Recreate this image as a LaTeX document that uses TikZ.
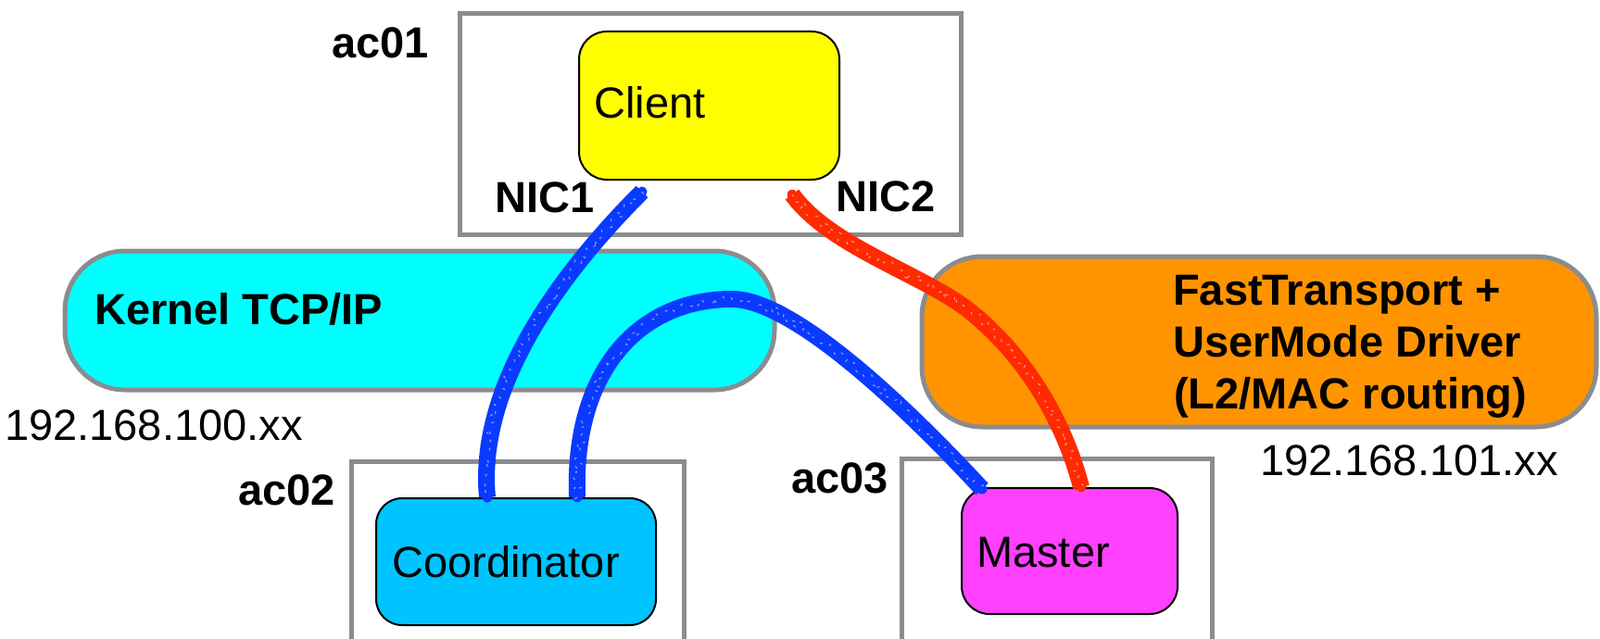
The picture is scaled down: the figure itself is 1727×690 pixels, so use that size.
\documentclass[tikz,border=0pt]{standalone}
\usepackage{fontspec}
\setmainfont{Liberation Sans}
\usetikzlibrary{decorations.pathmorphing}
\definecolor{framegray}{RGB}{138,140,143}
\definecolor{cyanfill}{RGB}{0,255,255}
\definecolor{orangefill}{RGB}{255,148,0}
\definecolor{clientfill}{RGB}{255,255,0}
\definecolor{coordfill}{RGB}{0,196,255}
\definecolor{masterfill}{RGB}{255,64,255}
\definecolor{bluecray}{RGB}{10,58,255}
\definecolor{redcray}{RGB}{255,42,0}
\begin{document}
\begin{tikzpicture}[x=1pt,y=-1pt,
  hostframe/.style={draw=framegray, line width=5pt, rectangle, inner sep=0pt, anchor=north west},
  pill/.style={draw=framegray, line width=5pt, rounded corners=65pt, rectangle, inner sep=0pt, anchor=north west},
  proc/.style={draw=black, line width=2pt, rounded corners=30pt, rectangle, inner sep=0pt, anchor=north west},
  lbl/.style={font=\fontsize{47}{56}\selectfont, inner sep=0pt, anchor=base west},
  blbl/.style={lbl, font=\fontsize{47}{56}\selectfont\bfseries},
  crayon/.style={draw=#1, line width=18pt,
    postaction={draw=#1, line width=11pt, line join=round, line cap=round, decorate,
      decoration={random steps, segment length=4pt, amplitude=3.5pt}},
    postaction={draw=white, opacity=0.5, line width=1.2pt, line join=round,
      dash pattern=on 3pt off 11pt, decorate,
      decoration={random steps, segment length=3pt, amplitude=5pt}}}
]
\useasboundingbox (0,0) rectangle (1727,690);
\clip (0,0) rectangle (1727,690);

% host frames
\node[hostframe, minimum width=541pt, minimum height=238pt] (ac01) at (493.5,12.5) {};
\node[hostframe, minimum width=359pt, minimum height=240pt] (ac02) at (376.5,495.5) {};
\node[hostframe, minimum width=335pt, minimum height=240pt] (ac03) at (970.5,492.5) {};

% network pills
\node[pill, fill=cyanfill, minimum width=766pt, minimum height=150pt] (kernel) at (67.5,268.5) {};
\node[pill, fill=orangefill, minimum width=728pt, minimum height=184pt] (fast) at (992.5,274.5) {};

% processes
\node[proc, fill=clientfill, minimum width=281pt, minimum height=160pt] (client) at (624,33) {};
\node[proc, fill=coordfill, rounded corners=28pt, minimum width=302pt, minimum height=137pt] (coord) at (405,537) {};
\node[proc, fill=masterfill, minimum width=233pt, minimum height=136pt] (master) at (1037,526) {};

% texts
\node[blbl] (lac01) at (358,63) {ac01};
\node[lbl] (tclient) at (641,128) {Client};
\node[blbl] (tnic1) at (534,229) {NIC1};
\node[blbl] (tnic2) at (902,228) {NIC2};
\node[blbl] (tkernel) at (102,350) {Kernel TCP/IP};
\node[lbl] (ip1) at (5,475) {192.168.100.xx};
\node[blbl] (ft1) at (1266,329) {FastTransport +};
\node[blbl] (ft2) at (1266,385) {UserMode Driver};
\node[blbl] (ft3) at (1267,441) {(L2/MAC routing)};
\node[lbl] (ip2) at (1360,513) {192.168.101.xx};
\node[blbl, anchor=base east] (lac02) at (362,545) {ac02};
\node[blbl, anchor=base east] (lac03) at (959,532) {ac03};
\node[lbl] (tcoord) at (423,623) {Coordinator};
\node[lbl] (tmaster) at (1054,612) {Master};

% connections
\draw[crayon=bluecray] ([xshift=69pt,yshift=-12pt]client.south west)
  .. controls (600,300) and (515,420) .. ([xshift=121pt]coord.north west);
\draw[crayon=bluecray] ([xshift=218pt]coord.north west)
  .. controls (618,400) and (690,323) .. (790,323)
  .. controls (850,323) and (960,420) .. ([xshift=23pt,yshift=-2pt]master.north west);
\draw[crayon=redcray] ([xshift=231pt,yshift=-15pt]client.south west)
  .. controls (895,265) and (990,294) .. (1043,333)
  .. controls (1110,385) and (1150,460) .. ([xshift=130pt]master.north west);
\end{tikzpicture}
\end{document}
